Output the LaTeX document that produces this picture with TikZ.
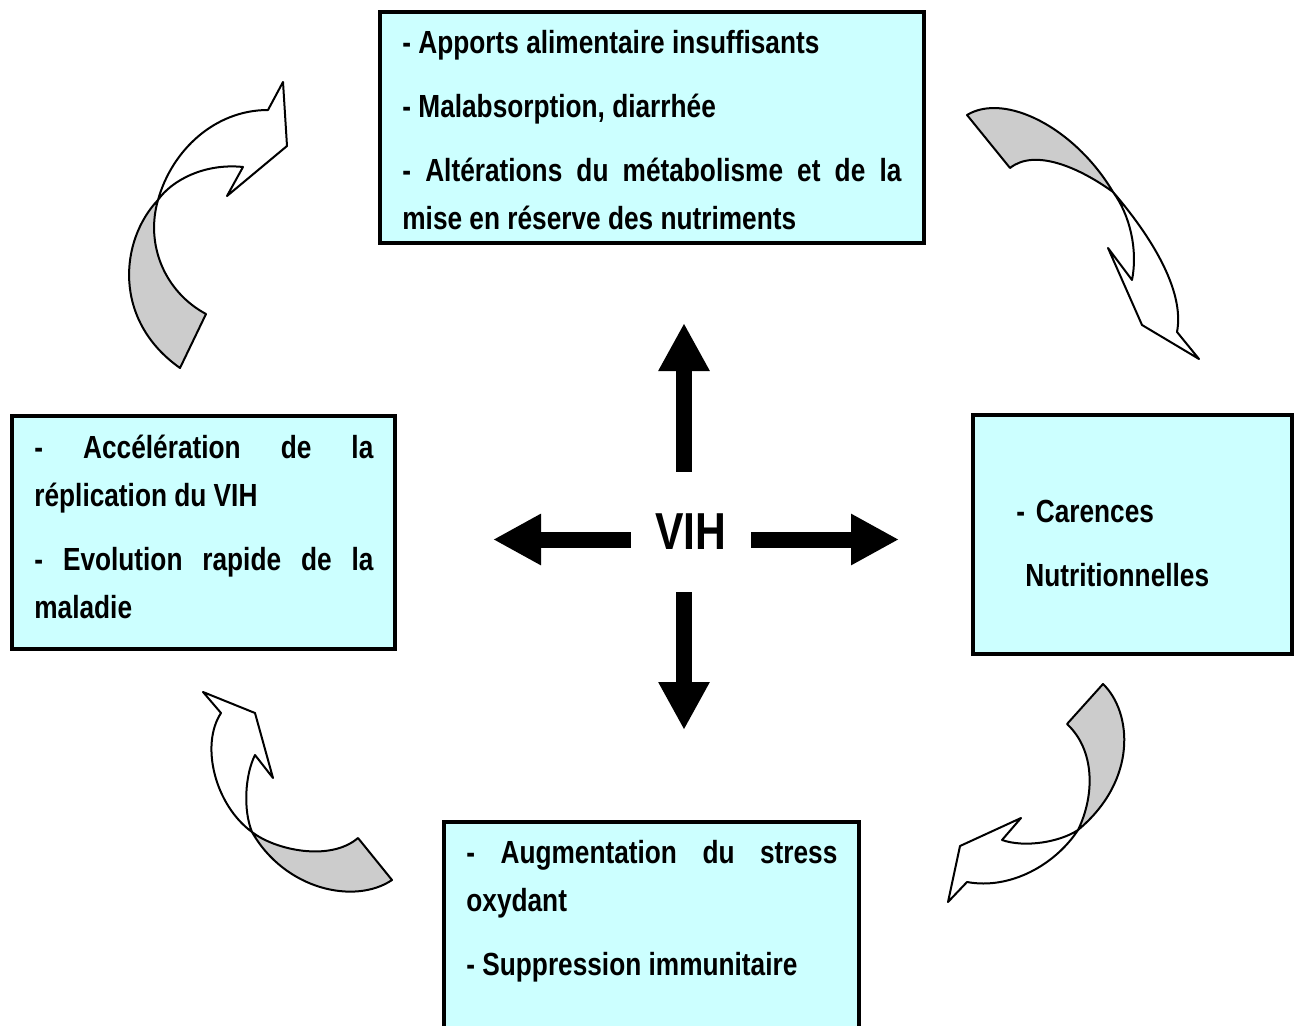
\documentclass[tikz,border=0pt]{standalone}
\usepackage{fontspec}
\setmainfont{Liberation Sans}[FakeStretch=0.82]
\usetikzlibrary{arrows.meta}
\definecolor{boxcyan}{RGB}{204,255,255}
\definecolor{backgray}{RGB}{204,204,204}

\begin{document}
\begin{tikzpicture}[x=0.5pt,y=-0.5pt,
    box/.style={draw,line width=2pt,fill=boxcyan,inner sep=0pt},
    txt/.style={anchor=base west,inner sep=0pt,align=justify,font=\bfseries\fontsize{16}{24}\selectfont},
    hub/.style={minimum width=60pt,minimum height=60pt,inner sep=0pt,font=\bfseries\fontsize{26}{26}\selectfont},
    fatarrow/.style={line width=8pt,-{Triangle[width=24pt,length=24pt]}},
    backpart/.style={draw,line width=1pt,line join=round,fill=backgray},
    frontpart/.style={draw,line width=1pt,line join=round,fill=white}]
\path[use as bounding box,fill=white] (0,0) rectangle (1299,1026);

% boxes
\node[box,minimum width=272pt,minimum height=115.5pt] (apports) at (652,127.5) {};
\node[box,minimum width=191.5pt,minimum height=116.5pt] (replic) at (203.5,532.5) {};
\node[box,minimum width=159.5pt,minimum height=119.5pt] (carences) at (1132.5,534.5) {};
\node[box,minimum width=207.5pt,minimum height=104pt] (stress) at (651.5,926) {};

\node[txt,text width=249.5pt] (apportst) at (402,54)
    {- Apports alimentaire insuffisants\\[8pt]- Malabsorption, diarrh\'ee\\[8pt]- Alt\'erations du m\'etabolisme et de la\linebreak mise en r\'eserve des nutriments};
\node[txt,text width=169.5pt] (replict) at (34,458)
    {- Acc\'el\'eration de la\linebreak r\'eplication du VIH\\[8pt]- Evolution rapide de la\linebreak maladie};
\node[txt,text width=130pt,align=left] (carencest) at (1016,522)
    {- Carences\\[8pt]\hspace*{4.5pt}Nutritionnelles};
\node[txt,text width=185.5pt] (stresst) at (466,863)
    {- Augmentation du stress\linebreak oxydant\\[8pt]- Suppression immunitaire};

% VIH and its four arrows
\node[hub] (vih) at (691,532) {VIH};
\coordinate (tipN) at (684,323);
\coordinate (tipS) at (684,730);
\coordinate (tipW) at (493,539.5);
\coordinate (tipE) at (899,539.5);
\draw[fatarrow] (vih.north -| tipN) -- (tipN);
\draw[fatarrow] (vih.south -| tipS) -- (tipS);
\draw[fatarrow] (vih.west |- tipW) -- (tipW);
\draw[fatarrow] (vih.east |- tipE) -- (tipE);

% curved arrows
\draw[backpart] (180,368) -- (206,314) .. controls (165,292) and (145,245) .. (158,200) .. controls (120,240) and (112,320) .. (180,368) -- cycle;
\draw[frontpart] (158,200) .. controls (172,150) and (215,110) .. (268,110) -- (283,82) -- (287,146) -- (227,196) -- (243,167) .. controls (205,163) and (172,180) .. (158,200) -- cycle;

\draw[backpart] (967,115) .. controls (1005,92) and (1075,128) .. (1113,192) .. controls (1080,168) and (1035,148) .. (1010,168) -- cycle;
\draw[frontpart] (1113,192) .. controls (1150,235) and (1185,290) .. (1177,332) -- (1199,359) -- (1142,325) -- (1108,248) -- (1132,280) .. controls (1138,250) and (1130,215) .. (1113,192) -- cycle;

\draw[backpart] (1103,684) .. controls (1132,712) and (1138,780) .. (1078,830) .. controls (1095,795) and (1095,750) .. (1067,724) -- cycle;
\draw[frontpart] (1078,830) .. controls (1055,865) and (1010,890) .. (967,882) -- (948,902) -- (960,846) -- (1021,818) -- (1002,840) .. controls (1025,848) and (1060,842) .. (1078,830) -- cycle;

\draw[backpart] (358,838) -- (392,880) .. controls (355,905) and (285,890) .. (252,832) .. controls (275,850) and (330,862) .. (358,838) -- cycle;
\draw[frontpart] (252,832) .. controls (215,805) and (200,745) .. (221,713) -- (203,692) -- (255,713) -- (273,778) -- (255,755) .. controls (245,775) and (243,810) .. (252,832) -- cycle;
\end{tikzpicture}
\end{document}
